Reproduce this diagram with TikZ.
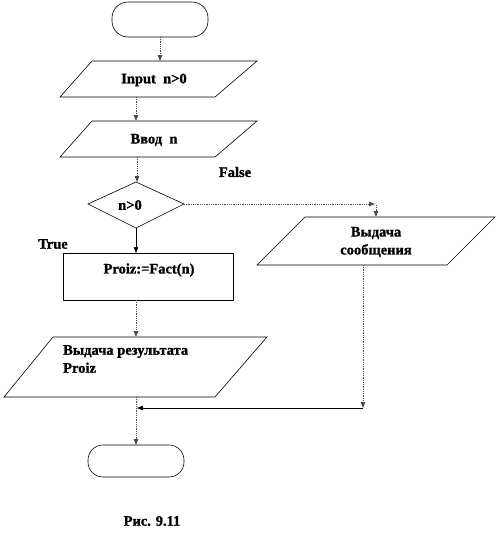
\documentclass[tikz,border=0pt]{standalone}
\usepackage{fontspec}
\setmainfont{Liberation Serif}
\newfontfamily\heavyfont[FakeBold=1.2]{Liberation Serif Bold}
\usetikzlibrary{arrows.meta}
\begin{document}
\begin{tikzpicture}[x=1pt,y=-1pt,
  shp/.style={draw=black,line width=0.6pt},
  conn/.style={draw=black!70,densely dotted,line width=0.8pt},
  solidconn/.style={draw=black,line width=0.6pt},
  tip/.style={-{Triangle[length=6pt,width=4.5pt]}},
  lbl/.style={font=\heavyfont\fontsize{14.5}{16}\selectfont,inner sep=0pt}]
\useasboundingbox (0,0) rectangle (500,544);
% shapes
\draw[shp,rounded corners=16pt] (112,2) rectangle (208,37);
\coordinate (startb) at (160,37);
\draw[shp] (92,61) -- (257,61) -- (215,97) -- (60,97) -- cycle;
\coordinate (in1t) at (160,61);
\coordinate (in1b) at (136,97);
\node[lbl] (in1) at (154,80) {Input\ \ n>0};
\draw[shp] (92,121) -- (257,121) -- (215,157) -- (60,157) -- cycle;
\coordinate (in2t) at (136,121);
\coordinate (in2b) at (137,157);
\node[lbl] (in2) at (154,140) {Ввод\ \ n};
\draw[shp] (88,204) -- (136,182) -- (184,204) -- (136,228) -- cycle;
\coordinate (dt) at (137,182);
\coordinate (dr) at (184,204);
\coordinate (db) at (136,228);
\node[lbl] (dtext) at (130,205) {n>0};
\node[lbl] (false) at (235,172) {False};
\node[lbl] (true) at (53,244) {True};
\draw[shp] (305,217) -- (495,217) -- (447,265) -- (257,265) -- cycle;
\coordinate (mt) at (376,217);
\coordinate (mb) at (363,265);
\coordinate (fr) at (375,204);
\coordinate (frb) at (376,205);
\node[lbl,align=center] (msg) at (376,242) {Выдача\\[2pt]сообщения};
\draw[shp] (63,253) rectangle (233,300);
\coordinate (rt) at (136,253);
\coordinate (rb) at (136,300);
\node[lbl] (proc) at (149,270) {Proiz:=Fact(n)};
\draw[shp] (53,337) -- (267,337) -- (215,397) -- (4,397) -- cycle;
\coordinate (ot) at (136,337);
\coordinate (ob) at (136,397);
\node[lbl,align=left,anchor=north west] (out) at (63,345) {Выдача результата\\[2pt]Proiz};
\draw[shp,rounded corners=15pt] (88,445) rectangle (184,477);
\coordinate (endt) at (136,445);
\coordinate (cr) at (363,408);
\coordinate (cm) at (137,408);
\node[lbl] (cap) at (152,521) {Рис. 9.11};
% connectors
\draw[conn,tip] (startb) -- (in1t);
\draw[conn,tip] (in1b) -- (in2t);
\draw[conn,tip] (in2b) -- (dt);
\draw[conn,tip] (dr) -- (fr);
\draw[conn,tip] (frb) -- (mt);
\draw[solidconn,tip] (db) -- (rt);
\draw[conn,tip] (rb) -- (ot);
\draw[conn,tip] (mb) -- (cr);
\draw[solidconn,tip] (cr) -- (cm);
\draw[conn,tip] (ob) -- (endt);
\end{tikzpicture}
\end{document}
